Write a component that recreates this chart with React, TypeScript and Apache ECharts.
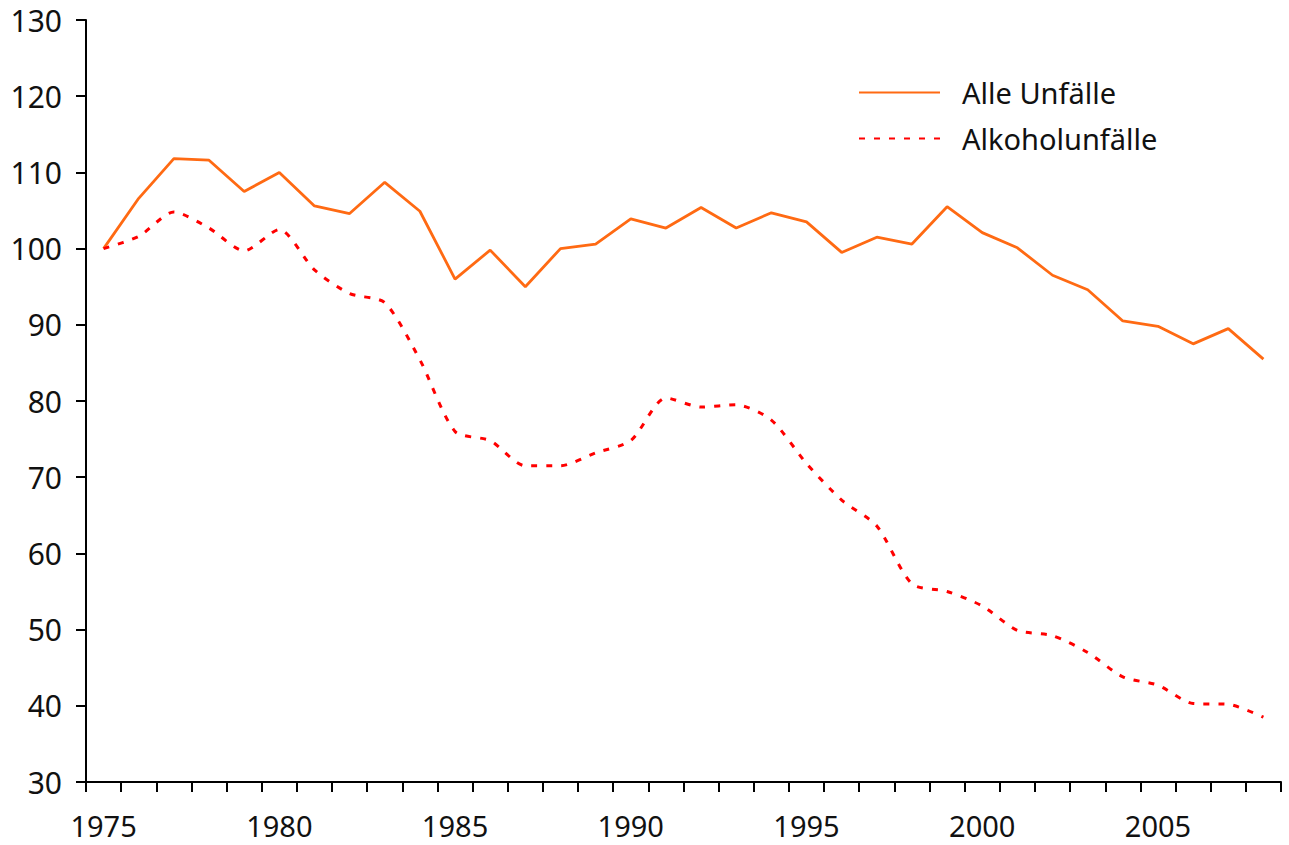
import React, { useEffect, useRef } from "react";
import * as echarts from "echarts";

const years: string[] = [
  "1975", "1976", "1977", "1978", "1979", "1980", "1981", "1982", "1983", "1984",
  "1985", "1986", "1987", "1988", "1989", "1990", "1991", "1992", "1993", "1994",
  "1995", "1996", "1997", "1998", "1999", "2000", "2001", "2002", "2003", "2004",
  "2005", "2006", "2007", "2008",
];

const alleUnfaelle: number[] = [
  100, 106.6, 111.8, 111.6, 107.5, 110.0, 105.6, 104.6, 108.7, 104.9,
  96.0, 99.8, 95.0, 100.0, 100.6, 103.9, 102.7, 105.4, 102.7, 104.7,
  103.5, 99.5, 101.5, 100.6, 105.5, 102.1, 100.1, 96.5, 94.6, 90.5,
  89.8, 87.5, 89.5, 85.5,
];

const alkoholUnfaelle: number[] = [
  100, 101.6, 104.8, 102.7, 99.7, 102.5, 97.2, 94.1, 92.9, 85.4,
  76.0, 74.8, 71.5, 71.5, 73.2, 74.8, 80.4, 79.2, 79.5, 77.5,
  71.8, 67.0, 63.6, 56.0, 55.0, 53.1, 49.9, 49.2, 47.0, 43.8,
  42.7, 40.3, 40.2, 38.5,
];

const yMin = 30;
const yMax = 130;
const yStep = 10;

const FONT = "'Noto Sans', 'Open Sans', sans-serif";

export default function App() {
  const ref = useRef<HTMLDivElement>(null);

  useEffect(() => {
    document.body.style.margin = "0";
    if (!ref.current) return;
    const chart = echarts.init(ref.current, undefined, { renderer: "svg" });
    chart.setOption({
      animation: false,
      backgroundColor: "#ffffff",
      textStyle: { fontFamily: FONT },
      grid: { left: 86, right: 8, top: 20, bottom: 63, containLabel: false },
      legend: {
        orient: "vertical",
        left: 858,
        top: 78,
        padding: 0,
        itemWidth: 81,
        itemHeight: 28,
        itemGap: 17,
        itemStyle: { opacity: 0 },
        textStyle: {
          fontFamily: FONT,
          fontSize: 29,
          lineHeight: 28,
          color: "#111111",
          padding: [0, 0, 0, 17],
        },
        data: ["Alle Unfälle", "Alkoholunfälle"],
      },
      xAxis: {
        type: "category",
        data: years,
        boundaryGap: true,
        axisLine: { show: true, lineStyle: { color: "#000000", width: 2 } },
        axisTick: {
          show: true,
          interval: 0,
          alignWithLabel: false,
          length: 10,
          lineStyle: { color: "#000000", width: 2 },
        },
        axisLabel: {
          interval: 4,
          margin: 28,
          lineHeight: 30,
          fontFamily: FONT,
          fontSize: 29,
          color: "#111111",
        },
        splitLine: { show: false },
      },
      yAxis: {
        type: "value",
        min: yMin,
        max: yMax,
        interval: yStep,
        axisLine: { show: true, lineStyle: { color: "#000000", width: 2 } },
        axisTick: { show: true, length: 10, lineStyle: { color: "#000000", width: 2 } },
        axisLabel: {
          margin: 24,
          fontFamily: FONT,
          fontSize: 30,
          color: "#111111",
        },
        splitLine: { show: false },
      },
      series: [
        {
          name: "Alle Unfälle",
          type: "line",
          data: alleUnfaelle,
          symbol: "none",
          smooth: false,
          lineStyle: { color: "#FF6A13", width: 2.8, type: "solid" },
          itemStyle: { color: "#FF6A13" },
        },
        {
          name: "Alkoholunfälle",
          type: "line",
          data: alkoholUnfaelle,
          symbol: "none",
          smooth: 0.25,
          lineStyle: { color: "#FF0000", width: 3, type: [6, 9] },
          itemStyle: { color: "#FF0000" },
        },
      ],
    });
    return () => chart.dispose();
  }, []);

  return <div ref={ref} style={{ width: 1289, height: 845 }} />;
}
